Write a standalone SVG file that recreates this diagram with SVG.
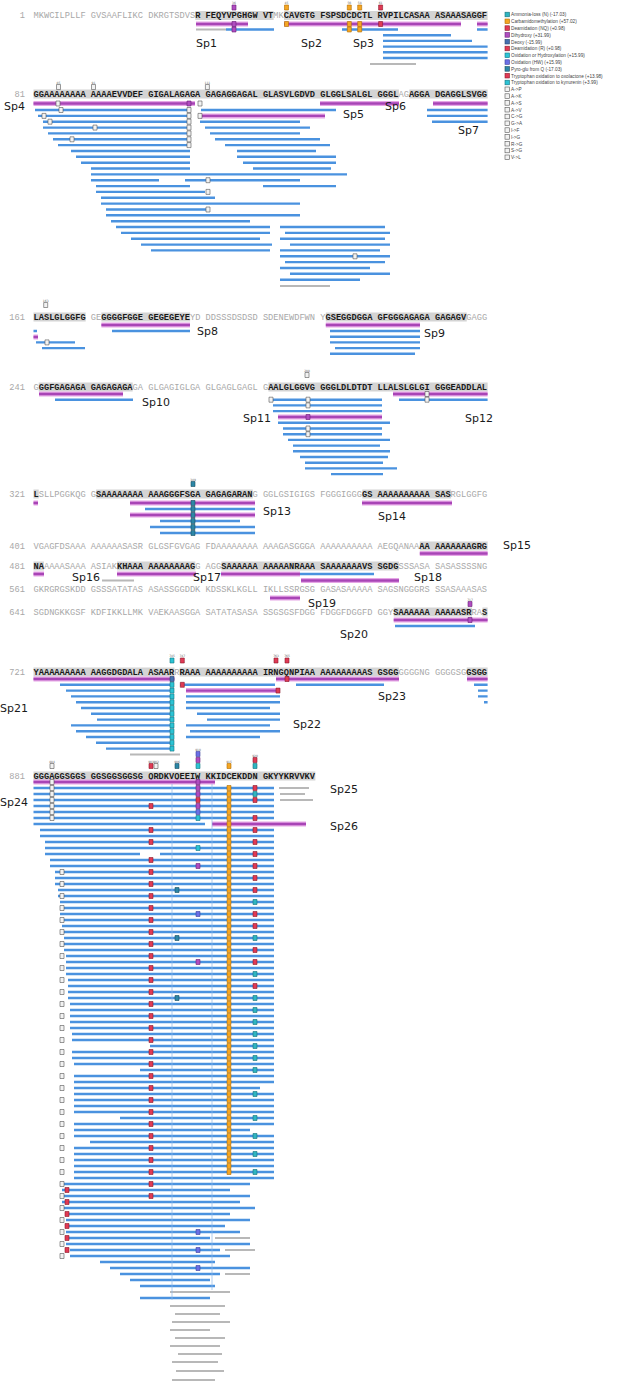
<svg xmlns="http://www.w3.org/2000/svg" xmlns:xlink="http://www.w3.org/1999/xlink" width="617" height="1394" viewBox="0 0 617 1394">
<style>
.t{font-family:"Liberation Mono",monospace;font-size:8.7px}
.n{fill:#a8a8a8}
.h{fill:#1a1a1a;font-weight:bold}
.num{font-family:"Liberation Mono",monospace;font-size:8.7px;fill:#a8a8a8;text-anchor:end}
.hl{fill:#d4d4d4}
.sp{font-family:"DejaVu Sans",sans-serif;font-size:11px;fill:#1a1a1a}
.b{fill:none;stroke:#4a92df;stroke-width:2.4}
.g{fill:none;stroke:#b8b8b8;stroke-width:2}
.v{fill:none;stroke:#8db8e8;stroke-width:0.7}
.m1{fill:none;stroke:#e6a6e6;stroke-width:5}
.m2{fill:none;stroke:#a845b6;stroke-width:2.4}
.bx{stroke-width:0.6}
.sub{fill:#f2f2f2;stroke:#555}
.cO{fill:#f5a623;stroke:#b06d00}
.cR{fill:#e03a55;stroke:#8a1a2a}
.cM{fill:#b04cc0;stroke:#6a2075}
.cD{fill:#4670b0;stroke:#28466f}
.cC{fill:#2cc3d5;stroke:#137582}
.cB{fill:#6b6fe6;stroke:#3b3f9a}
.cT{fill:#2c86a6;stroke:#174d60}
.cA{fill:#2fb5c0;stroke:#16707a}
.lt{font-family:"Liberation Sans",Arial,sans-serif;font-size:4.7px;fill:#444}
.tn{font-family:"DejaVu Sans",sans-serif;font-size:3px;fill:#666;text-anchor:middle}
</style>
<defs>
<path id="mg" d="M196 24H248M284 24H461M477 24H487.6M33.5 103.5H195M320 103.5H399M433 103.5H487.6M200 115.9H325M101.4 325H190M325.8 325H420M33.5 337H38M39 394H123M393 394H487.6M278 417H382M33.5 503H38M130 503H255M362 503H452M130 515H255M419.8 553.5H487.6M33.5 574H44M117 574H196M221 574H300M301 580.5H399M270 598H300M393.7 620H487.6M33.5 679H174.4M276 679H399M467 679H487.6M186 690.6H280M33.5 782H215M212 824H306"/>
</defs>
<rect width="617" height="1394" fill="#fff"/>

<g id="sequence">
<g id="row-1">
<rect class="hl" x="195.3" y="11" width="78.3" height="9"/><rect class="hl" x="284.06" y="11" width="203.58" height="9"/>
<text class="num" x="25" y="18.4">1</text>
<text class="t" x="33.5" y="18.4" xml:space="preserve"><tspan class="n">MKWCILPLLF GVSAAFLIKC DKRGTSDVS</tspan><tspan class="h">R FEQYVPGHGW VT</tspan><tspan class="n">MK</tspan><tspan class="h">CAVGTG FSPSDCDCTL RVPILCASAA ASAAASAGGF</tspan></text>
</g>
<g id="row-81">
<rect class="hl" x="33.5" y="89.5" width="365.4" height="9"/><rect class="hl" x="409.34" y="89.5" width="78.3" height="9"/>
<text class="num" x="25" y="96.9">81</text>
<text class="t" x="33.5" y="96.9" xml:space="preserve"><tspan class="h">GGAAAAAAAA AAAAEVVDEF GIGALAGAGA GAGAGGAGAL GLASVLGDVD GLGGLSALGL GGGL</tspan><tspan class="n">AG</tspan><tspan class="h">AGGA DGAGGLSVGG</tspan></text>
</g>
<g id="row-161">
<rect class="hl" x="33.5" y="312.5" width="52.2" height="9"/><rect class="hl" x="101.36" y="312.5" width="88.74" height="9"/><rect class="hl" x="325.82" y="312.5" width="140.94" height="9"/>
<text class="num" x="25" y="319.9">161</text>
<text class="t" x="33.5" y="319.9" xml:space="preserve"><tspan class="h">LASLGLGGFG</tspan><tspan class="n"> GE</tspan><tspan class="h">GGGGFGGE GEGEGEYE</tspan><tspan class="n">YD DDSSSDSDSD SDENEWDFWN Y</tspan><tspan class="h">GSEGGDGGA GFGGGAGAGA GAGAGV</tspan><tspan class="n">GAGG</tspan></text>
</g>
<g id="row-241">
<rect class="hl" x="38.72" y="382.5" width="93.96" height="9"/><rect class="hl" x="268.4" y="382.5" width="219.24" height="9"/>
<text class="num" x="25" y="389.9">241</text>
<text class="t" x="33.5" y="389.9" xml:space="preserve"><tspan class="n">G</tspan><tspan class="h">GGFGAGAGA GAGAGAGA</tspan><tspan class="n">GA GLGAGIGLGA GLGAGLGAGL G</tspan><tspan class="h">AALGLGGVG GGGLDLDTDT LLALSLGLGI GGGEADDLAL</tspan></text>
</g>
<g id="row-321">
<rect class="hl" x="33.5" y="489.5" width="5.22" height="9"/><rect class="hl" x="96.14" y="489.5" width="156.6" height="9"/><rect class="hl" x="362.36" y="489.5" width="88.74" height="9"/>
<text class="num" x="25" y="496.9">321</text>
<text class="t" x="33.5" y="496.9" xml:space="preserve"><tspan class="h">L</tspan><tspan class="n">SLLPGGKQG G</tspan><tspan class="h">SAAAAAAAA AAAGGGFSGA GAGAGARAN</tspan><tspan class="n">G GGLGSIGIGS FGGGIGGG</tspan><tspan class="h">GS AAAAAAAAAA SAS</tspan><tspan class="n">RGLGGFG</tspan></text>
</g>
<g id="row-401">
<rect class="hl" x="419.78" y="541.5" width="67.86" height="9"/>
<text class="num" x="25" y="548.9">401</text>
<text class="t" x="33.5" y="548.9" xml:space="preserve"><tspan class="n">VGAGFDSAAA AAAAAASASR GLGSFGVGAG FDAAAAAAAA AAAGASGGGA AAAAAAAAAA AEGQANAA</tspan><tspan class="h">AA AAAAAAAGRG</tspan></text>
</g>
<g id="row-481">
<rect class="hl" x="33.5" y="561.5" width="10.44" height="9"/><rect class="hl" x="117.02" y="561.5" width="78.3" height="9"/><rect class="hl" x="221.42" y="561.5" width="177.48" height="9"/>
<text class="num" x="25" y="568.9">481</text>
<text class="t" x="33.5" y="568.9" xml:space="preserve"><tspan class="h">NA</tspan><tspan class="n">AAAASAAA ASIAK</tspan><tspan class="h">KHAAA AAAAAAAAG</tspan><tspan class="n">G AGG</tspan><tspan class="h">SAAAAAA AAAAANRAAA SAAAAAAAVS SGDG</tspan><tspan class="n">SSSASA SASASSSSNG</tspan></text>
</g>
<g id="row-561">
<text class="num" x="25" y="592">561</text>
<text class="t n" x="33.5" y="592" xml:space="preserve">GKRGRGSKDD GSSSATATAS ASASSGGDDK KDSSKLKGLL IKLLSSRGSG GASASAAAAA SAGSNGGGRS SSASAAASAS</text>
</g>
<g id="row-641">
<rect class="hl" x="393.68" y="607.5" width="78.3" height="9"/><rect class="hl" x="482.42" y="607.5" width="5.22" height="9"/>
<text class="num" x="25" y="614.9">641</text>
<text class="t" x="33.5" y="614.9" xml:space="preserve"><tspan class="n">SGDNGKKGSF KDFIKKLLMK VAEKAASGGA SATATASASA SSGSGSFDGG FDGGFDGGFD GGY</tspan><tspan class="h">SAAAAAA AAAAASR</tspan><tspan class="n">RA</tspan><tspan class="h">S</tspan></text>
</g>
<g id="row-721">
<rect class="hl" x="33.5" y="667.5" width="140.94" height="9"/><rect class="hl" x="179.66" y="667.5" width="219.24" height="9"/><rect class="hl" x="466.76" y="667.5" width="20.88" height="9"/>
<text class="num" x="25" y="674.9">721</text>
<text class="t" x="33.5" y="674.9" xml:space="preserve"><tspan class="h">YAAAAAAAAA AAGGDGDALA ASAAR</tspan><tspan class="n">R</tspan><tspan class="h">RAAA AAAAAAAAAA IRNGQNPIAA AAAAAAAAAS GSGG</tspan><tspan class="n">GGGGNG GGGGSG</tspan><tspan class="h">GSGG</tspan></text>
</g>
<g id="row-881">
<rect class="hl" x="33.5" y="771.5" width="281.88" height="9"/>
<text class="num" x="25" y="778.9">881</text>
<text class="t" x="33.5" y="778.9" xml:space="preserve"><tspan class="h">GGGAGGSGGS GGSGGSGGSG QRDKVQEEIW KKIDCEKDDN GKYYKRVVKV</tspan></text>
</g>
</g>

<g id="peptides">
<use href="#mg" class="m1"/>
<use href="#mg" class="m2"/>
<path class="g" d="M196 29.5H226M370 64H416M280 286H330M102 580.5H134M130 754.4H180M279 788H309M280 794H305M280 800H313M170 1292H230M170 1306H225M175 1314H220M172 1322H230M170 1330H210M175 1338H225M170 1346H220M178 1354H222M172 1362H218M176 1371H224M172 1380H215M215 1238H250M225 1250H255M225 1274H250"/>
<path class="b" d="M226 29.5H274M342 29.5H398M477 29.5H487.6M383 35.2H451M383 40.9H472M383 46.6H487.6M383 52.3H487.6M383 58H487.6
M35 110H190M201 110H336M427 110H487.6M38 115.9H190M427 115.9H487.6M43 121.7H190M200 121.7H300M432 121.7H487.6M43 127.6H190M205 127.6H310M48 133.4H190M210 133.4H300M53 139.3H190M215 139.3H320M58 145.1H190M225 145.1H330M71 151H190M237 151H316M76 156.8H190M237 156.8H336M81 162.7H190M243 162.7H336M91 168.5H190M253 168.5H331M91 174.4H347M91 180.2H159M185 180.2H300M96 186.1H190M263 186.1H336M96 191.9H205M101 197.8H215M101 203.6H300M106 209.5H210M106 215.3H300M111 221.2H250M116 227H270M280 227H385M121 232.9H270M285 232.9H390M131 238.7H260M280 238.7H385M141 244.6H272M290 244.6H390M151 250.4H270M280 250.4H380M280 256.3H390M285 262.1H385M280 268H370M290 273.8H390M280 279.7H360
M33.5 331H37M112 331H190M330 331H420M330 336.7H420M36 342.4H75M330 342.4H420M42 348.1H85M335 348.1H420M330 353.8H415
M55 399.7H133M273 399.7H382M399 399.7H487.6M273 405.4H382M273 411.1H382M278 422.8H390M283 428.5H382M283 434.2H382M288 439.9H390M293 445.6H380M293 451.3H390M300 457H388M305 462.7H383M305 468.4H397M331 474.1H383
M145 509H255M160 521H240M150 527H255M160 533H255
M300 574H374M395 626H475
M60 684.8H172M180 684.8H275M296 684.8H384M474 684.8H487.6M66 690.6H172M478 690.6H487.6M71 696.4H172M186 696.4H280M478 696.4H487.6M76 702.2H172M186 702.2H280M484 702.2H487.6M81 708H172M186 708H270M91 713.8H172M197 713.8H280M97 719.6H172M207 719.6H280M71 725.4H172M186 725.4H270M76 731.2H172M190 731.2H280M86 737H172M186 737H260M96 742.8H172M106 748.6H172
M33.5 788H274M33.5 794H274M33.5 800H274M33.5 806H274M33.5 812H274M33.5 818H274M33.5 824H205M40 830H274M40 836H274M45 842H274M45 848H274M45 854H140M160 854H274M50 860H274M50 866H274M55 872H274M55 878H274M55 884H274M58 890H274M58 896H274M60 902H274M60 908H274M60 914H274M62 920H274M62 926H274M62 932H274M64 938H274M64 944H274M64 950H274M66 956H274M66 962H274M66 968H274M66 974H274M68 980H274M68 986H274M68 992H274M68 998H274
M70 1004H274M70 1010H274M70 1016H274M70 1022H274M70 1028H274M72 1034H274M72 1040H274M150 1046H274M72 1052H274M72 1058H274M74 1064H274M140 1070H274M74 1076H274M74 1082H274M74 1088H260M74 1094H274M74 1100H274M74 1106H274M74 1112H274M120 1118H274M74 1124H274M74 1130H250M74 1136H274M90 1142H274M74 1148H274M74 1154H274M74 1160H274M74 1166H274M74 1172H274M74 1178H274
M62 1184H250M62 1190H230M62 1196H250M62 1202H240M62 1208H255M66 1214H230M66 1220H250M66 1226H225M66 1232H240M66 1238H210M66 1244H250M70 1250H220M70 1256H230M100 1262H215M110 1268H250M120 1274H220M130 1280H210M140 1286H215M140 1298H210"/>
<path class="v" d="M172 784V1300M212 784V1290"/>

<path class="bx sub" d="M56.5 84.5h4v5h-4zM91.5 84.5h4v5h-4zM205.4 84.5h4v5h-4zM56 101h4v5h-4zM198 101h4v5h-4zM59 107.5h4v5h-4zM187 107.5h4v5h-4zM42 113.4h4v5h-4zM187 113.4h4v5h-4zM198 113.4h4v5h-4zM48 119.2h4v5h-4zM187 119.2h4v5h-4zM93 125.1h4v5h-4zM187 125.1h4v5h-4zM187 130.9h4v5h-4zM70 136.8h4v5h-4zM187 136.8h4v5h-4zM187 142.6h4v5h-4zM206 177.7h4v5h-4zM206 189.4h4v5h-4zM206 207h4v5h-4zM353 253.8h4v5h-4z
M43.7 302.5h4v5h-4zM45 339.9h4v5h-4zM305 372.5h4v5h-4zM425 391.5h4v5h-4zM269 397.2h4v5h-4zM306 397.2h4v5h-4zM425 397.2h4v5h-4zM306 402.9h4v5h-4zM306 426h4v5h-4zM306 431.7h4v5h-4z
M50 763.5h4v5h-4zM154 763.5h4v5h-4zM50 779.5h4v5h-4zm0 6h4v5h-4zm0 6h4v5h-4zm0 6h4v5h-4zm0 6h4v5h-4zm0 6h4v5h-4zm0 6h4v5h-4z
M60 869.5h4v5h-4zm0 12h4v5h-4zm0 12h4v5h-4zm0 12h4v5h-4zm0 12h4v5h-4zm0 12h4v5h-4zm0 12h4v5h-4zm0 12h4v5h-4zm0 12h4v5h-4zm0 12h4v5h-4zm0 12h4v5h-4zm0 12h4v5h-4zm0 12h4v5h-4zm0 12h4v5h-4zm0 12h4v5h-4zm0 12h4v5h-4zm0 12h4v5h-4zm0 12h4v5h-4zm0 12h4v5h-4zm0 12h4v5h-4zm0 12h4v5h-4zm0 12h4v5h-4zm0 12h4v5h-4zm0 12h4v5h-4zm0 12h4v5h-4zm0 12h4v5h-4zm0 12h4v5h-4zm0 12h4v5h-4zm0 12h4v5h-4zm0 12h4v5h-4zm0 12h4v5h-4zm0 12h4v5h-4zm0 12h4v5h-4z"/>
<path class="bx cM" d="M232 5h4v5h-4zM232 21.5h4v5h-4zM232 27h4v5h-4zM187 101h4v5h-4zM306 414.5h4v5h-4zM468 601.5h4v5h-4zM468 617.5h4v5h-4zM196 757.5h4v5h-4zM196 779.5h4v5h-4zM196 785.5h4v5h-4zM196 791.5h4v5h-4zM196 803.5h4v5h-4zM196 863.5h4v5h-4zM196 959.5h4v5h-4z"/>
<path class="bx cO" d="M284.5 5h4v5h-4zM347.3 5h4v5h-4zM357.7 5h4v5h-4zM284.5 21.5h4v5h-4zM347.3 21.5h4v5h-4zM347.3 27h4v5h-4zM357.7 21.5h4v5h-4zM357.7 27h4v5h-4zM227 763.5h4v5h-4z
M227 785.5h4v5h-4zm0 6h4v5h-4zm0 6h4v5h-4zm0 6h4v5h-4zm0 6h4v5h-4zm0 6h4v5h-4zm0 6h4v5h-4zm0 6h4v5h-4zm0 6h4v5h-4zm0 6h4v5h-4zm0 6h4v5h-4zm0 6h4v5h-4zm0 6h4v5h-4zm0 6h4v5h-4zm0 6h4v5h-4zm0 6h4v5h-4zm0 6h4v5h-4zm0 6h4v5h-4zm0 6h4v5h-4zm0 6h4v5h-4zm0 6h4v5h-4zm0 6h4v5h-4zm0 6h4v5h-4zm0 6h4v5h-4zm0 6h4v5h-4zm0 6h4v5h-4zm0 6h4v5h-4zm0 6h4v5h-4zm0 6h4v5h-4zm0 6h4v5h-4zm0 6h4v5h-4zm0 6h4v5h-4zm0 6h4v5h-4zm0 6h4v5h-4zm0 6h4v5h-4zm0 6h4v5h-4zm0 6h4v5h-4zm0 6h4v5h-4zm0 6h4v5h-4zm0 6h4v5h-4zm0 6h4v5h-4zm0 6h4v5h-4zm0 6h4v5h-4zm0 6h4v5h-4zm0 6h4v5h-4zm0 6h4v5h-4zm0 6h4v5h-4zm0 6h4v5h-4zm0 6h4v5h-4zm0 6h4v5h-4zm0 6h4v5h-4zm0 6h4v5h-4zm0 6h4v5h-4zm0 6h4v5h-4zm0 6h4v5h-4zm0 6h4v5h-4zm0 6h4v5h-4zm0 6h4v5h-4zm0 6h4v5h-4zm0 6h4v5h-4zm0 6h4v5h-4zm0 6h4v5h-4zm0 6h4v5h-4zm0 6h4v5h-4zm0 6h4v5h-4z"/>
<path class="bx cR" d="M378.6 5h4v5h-4zM378.6 21.5h4v5h-4zM180.3 658h4v5h-4zM274 658h4v5h-4zM285 658h4v5h-4zM285 676.5h4v5h-4zM180.3 682.3h4v5h-4zM276 688.1h4v5h-4zM149 763.5h4v5h-4zM253 757.5h4v5h-4zM196 797.5h4v5h-4z
M149 803.5h4v5h-4zM149 827.5h4v5h-4zM149 839.5h4v5h-4zM149 857.5h4v5h-4zm0 12h4v5h-4zm0 12h4v5h-4zm0 12h4v5h-4zm0 12h4v5h-4zm0 12h4v5h-4zm0 12h4v5h-4zm0 12h4v5h-4zm0 12h4v5h-4zm0 12h4v5h-4zm0 12h4v5h-4zm0 12h4v5h-4zm0 12h4v5h-4zm0 12h4v5h-4zm0 12h4v5h-4zm0 12h4v5h-4zm0 12h4v5h-4zm0 12h4v5h-4zm0 12h4v5h-4zm0 12h4v5h-4zm0 12h4v5h-4zm0 12h4v5h-4zm0 12h4v5h-4zm0 12h4v5h-4zm0 12h4v5h-4zm0 12h4v5h-4zm0 12h4v5h-4zm0 12h4v5h-4zm0 12h4v5h-4z
M253 785.5h4v5h-4zM253 797.5h4v5h-4zM253 815.5h4v5h-4zM253 827.5h4v5h-4zM253 839.5h4v5h-4zM253 851.5h4v5h-4zM253 863.5h4v5h-4zM253 875.5h4v5h-4zM253 887.5h4v5h-4zM253 911.5h4v5h-4zM253 923.5h4v5h-4zM253 947.5h4v5h-4zM253 959.5h4v5h-4zM253 983.5h4v5h-4z
M65 1187.5h4v5h-4zm0 12h4v5h-4zm0 12h4v5h-4zm0 12h4v5h-4zm0 12h4v5h-4zm0 12h4v5h-4z"/>
<path class="bx cD" d="M170 676.5h4v5h-4z"/>
<path class="bx cC" d="M170 658h4v5h-4zM170 682.3h4v5h-4zm0 5.8h4v5h-4zm0 5.8h4v5h-4zm0 5.8h4v5h-4zm0 5.8h4v5h-4zm0 5.8h4v5h-4zm0 5.8h4v5h-4zm0 5.8h4v5h-4zm0 5.8h4v5h-4zm0 5.8h4v5h-4zm0 5.8h4v5h-4zm0 5.8h4v5h-4zM196 763.5h4v5h-4zM196 815.5h4v5h-4zM196 845.5h4v5h-4z"/>
<path class="bx cB" d="M196 751.5h4v5h-4zM196 809.5h4v5h-4zM196 911.5h4v5h-4zM196 1229.5h4v5h-4zM196 1247.5h4v5h-4zM196 1265.5h4v5h-4z"/>
<path class="bx cT" d="M191 481.5h4v5h-4zM191 500.5h4v5h-4zm0 6h4v5h-4zm0 6h4v5h-4zm0 6h4v5h-4zm0 6h4v5h-4zm0 6h4v5h-4zM175 763.5h4v5h-4zM175 887.5h4v5h-4zM175 935.5h4v5h-4zM175 995.5h4v5h-4z"/>
<path class="bx cA" d="M253 763.5h4v5h-4zM253 791.5h4v5h-4zM253 899.5h4v5h-4zM253 935.5h4v5h-4zM253 971.5h4v5h-4zM253 995.5h4v5h-4zM253 1007.5h4v5h-4zM253 1019.5h4v5h-4zM253 1031.5h4v5h-4zM253 1043.5h4v5h-4zM253 1055.5h4v5h-4zM253 1067.5h4v5h-4zM253 1091.5h4v5h-4zM253 1115.5h4v5h-4zM253 1133.5h4v5h-4zM253 1151.5h4v5h-4zM253 1169.5h4v5h-4z"/>
</g>

<g id="site-numbers">
<text class="tn" x="234" y="4">36</text><text class="tn" x="286.5" y="4">45</text><text class="tn" x="349.3" y="4">56</text><text class="tn" x="359.7" y="4">58</text><text class="tn" x="380.6" y="4">61</text>
<text class="tn" x="58.5" y="83.5">85</text><text class="tn" x="93.5" y="83.5">91</text><text class="tn" x="207.4" y="83.5">111</text>
<text class="tn" x="45.7" y="301.5">163</text><text class="tn" x="307" y="371.5">288</text><text class="tn" x="193" y="480.5">349</text><text class="tn" x="470" y="600.5">717</text>
<text class="tn" x="172" y="657">745</text><text class="tn" x="182.3" y="657">747</text><text class="tn" x="276" y="657">763</text><text class="tn" x="287" y="657">765</text>
<text class="tn" x="52" y="762.5">884</text><text class="tn" x="151" y="762.5">901</text><text class="tn" x="156" y="762.5">902</text><text class="tn" x="177" y="762.5">906</text><text class="tn" x="198" y="750.5">910</text><text class="tn" x="229" y="762.5">915</text><text class="tn" x="255" y="756.5">920</text>
</g>

<g id="labels">
<text class="sp" x="196" y="47">Sp1</text><text class="sp" x="301" y="47">Sp2</text><text class="sp" x="353" y="47">Sp3</text>
<text class="sp" x="4" y="110">Sp4</text><text class="sp" x="343" y="118">Sp5</text><text class="sp" x="385" y="110">Sp6</text><text class="sp" x="458" y="134">Sp7</text>
<text class="sp" x="197" y="335">Sp8</text><text class="sp" x="424" y="337">Sp9</text>
<text class="sp" x="142" y="406">Sp10</text><text class="sp" x="243" y="422">Sp11</text><text class="sp" x="465" y="422">Sp12</text>
<text class="sp" x="263" y="515">Sp13</text><text class="sp" x="378" y="520">Sp14</text>
<text class="sp" x="503" y="549">Sp15</text><text class="sp" x="72" y="580.5">Sp16</text><text class="sp" x="193" y="580.5">Sp17</text><text class="sp" x="414" y="580.5">Sp18</text>
<text class="sp" x="308" y="607">Sp19</text><text class="sp" x="340" y="638">Sp20</text>
<text class="sp" x="0" y="712">Sp21</text><text class="sp" x="293" y="728">Sp22</text><text class="sp" x="378" y="700">Sp23</text>
<text class="sp" x="0" y="806">Sp24</text><text class="sp" x="330" y="793">Sp25</text><text class="sp" x="330" y="830">Sp26</text>
</g>

<g id="legend">
<rect class="bx cA" x="505" y="12.2" width="4.5" height="4.6"/><text class="lt" x="511" y="16.3">Ammonia-loss (N) (-17.03)</text>
<rect class="bx cO" x="505" y="19" width="4.5" height="4.6"/><text class="lt" x="511" y="23.1">Carbamidomethylation (+57.02)</text>
<rect class="bx cR" x="505" y="25.8" width="4.5" height="4.6"/><text class="lt" x="511" y="29.9">Deamidation (NQ) (+0.98)</text>
<rect class="bx cM" x="505" y="32.6" width="4.5" height="4.6"/><text class="lt" x="511" y="36.7">Dihydroxy (+31.99)</text>
<rect class="bx cD" x="505" y="39.4" width="4.5" height="4.6"/><text class="lt" x="511" y="43.5">Deoxy (-15.99)</text>
<rect class="bx cR" x="505" y="46.2" width="4.5" height="4.6"/><text class="lt" x="511" y="50.3">Deamidation (R) (+0.98)</text>
<rect class="bx cC" x="505" y="53" width="4.5" height="4.6"/><text class="lt" x="511" y="57.1">Oxidation or Hydroxylation (+15.99)</text>
<rect class="bx cB" x="505" y="59.8" width="4.5" height="4.6"/><text class="lt" x="511" y="63.9">Oxidation (HW) (+15.99)</text>
<rect class="bx cT" x="505" y="66.6" width="4.5" height="4.6"/><text class="lt" x="511" y="70.7">Pyro-glu from Q (-17.03)</text>
<rect class="bx cR" x="505" y="73.4" width="4.5" height="4.6"/><text class="lt" x="511" y="77.5">Tryptophan oxidation to oxolactone (+13.98)</text>
<rect class="bx cC" x="505" y="80.2" width="4.5" height="4.6"/><text class="lt" x="511" y="84.3">Tryptophan oxidation to kynurenin (+3.99)</text>
<rect class="bx sub" x="505" y="87" width="4.5" height="4.6"/><text class="lt" x="511" y="91.1">A-&gt;P</text>
<rect class="bx sub" x="505" y="93.8" width="4.5" height="4.6"/><text class="lt" x="511" y="97.9">A-&gt;K</text>
<rect class="bx sub" x="505" y="100.6" width="4.5" height="4.6"/><text class="lt" x="511" y="104.7">A-&gt;S</text>
<rect class="bx sub" x="505" y="107.4" width="4.5" height="4.6"/><text class="lt" x="511" y="111.5">A-&gt;V</text>
<rect class="bx sub" x="505" y="114.2" width="4.5" height="4.6"/><text class="lt" x="511" y="118.3">C-&gt;G</text>
<rect class="bx sub" x="505" y="121" width="4.5" height="4.6"/><text class="lt" x="511" y="125.1">G-&gt;A</text>
<rect class="bx sub" x="505" y="127.8" width="4.5" height="4.6"/><text class="lt" x="511" y="131.9">I-&gt;F</text>
<rect class="bx sub" x="505" y="134.6" width="4.5" height="4.6"/><text class="lt" x="511" y="138.7">I-&gt;G</text>
<rect class="bx sub" x="505" y="141.4" width="4.5" height="4.6"/><text class="lt" x="511" y="145.5">R-&gt;G</text>
<rect class="bx sub" x="505" y="148.2" width="4.5" height="4.6"/><text class="lt" x="511" y="152.3">S-&gt;G</text>
<rect class="bx sub" x="505" y="155" width="4.5" height="4.6"/><text class="lt" x="511" y="159.1">V-&gt;L</text>
</g>
</svg>
